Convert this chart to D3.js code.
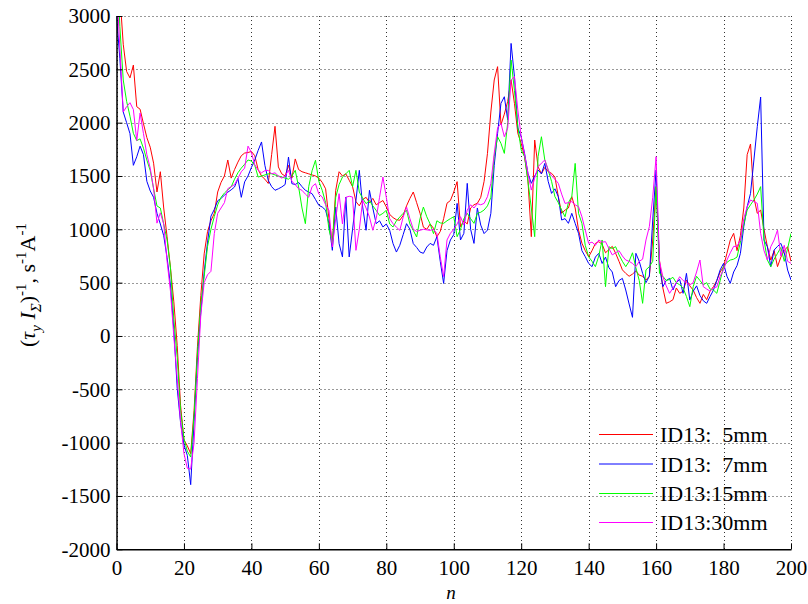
<!DOCTYPE html>
<html>
<head>
<meta charset="utf-8">
<script src="https://cdn.jsdelivr.net/npm/d3@7"></script>
<style>
  html, body { margin: 0; padding: 0; background: #fff; }
  svg { display: block; }
  text { font-family: "Liberation Serif", "Times New Roman", serif; fill: #000; }
</style>
</head>
<body>
<svg id="chart" width="808" height="604"></svg>
<script>
// ---------- data ----------
const seriesNames = ["ID13:  5mm", "ID13:  7mm", "ID13:15mm", "ID13:30mm"];
const seriesColors = ["#ff0000", "#0000ff", "#00ff00", "#ff00ff"];
const xTicks = [0, 20, 40, 60, 80, 100, 120, 140, 160, 180, 200];
const yTicks = [-2000, -1500, -1000, -500, 0, 500, 1000, 1500, 2000, 2500, 3000];

const red = [3600,3200,2735,2480,2420,2540,2150,2126,1990,1860,1770,1620,1350,1540,1200,930,640,320,-90,-650,
-974,-1030,-1103,-700,-100,380,770,980,1080,1150,1350,1440,1500,1650,1480,1560,1630,1690,1715,1720,
1730,1690,1560,1500,1470,1430,1700,1966,1585,1520,1500,1600,1480,1660,1560,1540,1530,1520,1510,1500,
1480,1440,1380,1100,865,1365,1540,1500,1520,1460,1400,1260,1220,1280,1300,1250,1290,1230,1250,1270,
1210,1140,1110,1090,1085,1130,1220,1290,1350,1250,1150,1020,1000,1050,1010,930,980,1100,1245,1270,
1350,1447,1025,1080,1050,1200,1230,1244,1300,1450,1712,2100,2400,2525,1980,2080,2200,2400,2180,1900,
1806,1681,1462,931,1837,1587,1520,1580,1540,1525,1490,1306,1150,1180,1200,1306,1200,993,870,800,
743,800,868,884,860,780,810,840,775,700,620,587,560,580,610,570,560,525,560,900,
1400,712,450,306,320,340,450,400,420,525,470,430,360,306,390,340,420,462,520,600,
650,775,900,962,800,940,1200,1700,1800,1300,1150,1180,1000,837,712,800,650,740,800,837,
700];

const blue = [3000,2600,2100,2000,1897,1600,1680,1780,1700,1450,1360,1300,1150,1050,940,735,477,60,-490,-813,
-1020,-1120,-1394,-800,-200,220,600,880,1123,1187,1268,1290,1320,1348,1370,1397,1477,1300,1445,1500,
1580,1650,1740,1819,1600,1459,1400,1366,1380,1397,1420,1678,1428,1420,1440,1400,1366,1350,1334,1280,
1225,1209,1180,1053,803,1209,866,741,1303,741,1000,1272,1553,1209,991,1366,1200,1053,1080,1022,
1050,991,866,787,850,950,1053,1000,866,830,787,775,834,868,850,931,700,493,800,900,
950,1243,900,962,1431,1000,868,1200,1040,960,993,1150,1600,1900,2181,2243,2025,2743,2431,1950,
1868,1712,1525,1431,1500,1556,1520,1618,1450,1337,1380,1306,1087,1100,1056,1150,1056,962,800,743,
680,650,740,775,680,740,640,600,462,520,540,431,300,175,775,700,587,500,560,1087,
1556,650,462,520,540,431,500,530,400,587,337,420,470,380,330,306,370,430,520,620,
681,560,494,600,660,775,1025,1212,1337,1650,1962,2240,900,837,650,806,840,868,780,618,
525];

const green = [3600,2900,2400,2200,2060,1900,1832,1848,1760,1650,1550,1381,1219,1200,1050,900,639,155,-200,-700,
-960,-1080,-1135,-750,-168,300,560,840,1000,1120,1230,1300,1340,1370,1397,1470,1530,1574,1610,1650,
1640,1600,1490,1500,1510,1520,1522,1510,1500,1490,1480,1470,1500,1553,1397,1200,1053,1400,1550,1647,
1450,1366,1250,1000,866,1300,1420,1490,1520,1553,1400,1553,1350,1290,1241,1270,1220,1178,1130,1150,
1178,1050,1022,1080,1115,1150,1178,1050,990,928,1100,1209,1118,1050,959,1080,1060,1056,1080,1100,
1118,931,1000,1100,1150,1100,1056,1150,1160,1181,1220,1300,1681,1868,1806,1712,2000,2587,2300,1962,
1743,1681,1450,1200,931,1681,1868,1650,1556,1450,1306,1250,1180,1118,1250,1306,1618,1150,1056,850,
743,700,650,750,900,462,837,820,837,760,700,650,700,780,640,520,306,620,650,700,
1400,587,560,520,530,550,500,480,450,370,275,462,560,520,480,500,440,431,400,520,
650,690,712,720,740,880,1050,1181,1230,1275,1330,1400,900,712,650,720,775,830,700,820,
962];

const magenta = [3300,2700,2100,2150,2187,2123,1832,2090,1897,1700,1574,1381,1058,1155,1050,700,420,-6,-400,-800,
-1100,-1240,-1248,-1000,-400,200,500,574,606,961,1150,1200,1250,1381,1400,1420,1477,1540,1574,1780,
1720,1606,1553,1530,1550,1553,1520,1530,1500,1480,1500,1553,1450,1420,1380,1366,1330,1300,1400,1428,
1330,1303,1230,1178,834,1100,1334,1050,1300,1310,1303,803,1000,1272,1200,1115,991,1100,1300,1490,
1300,1100,1053,1020,990,1115,1209,1100,1000,980,991,1000,995,990,1000,960,743,556,900,962,
1000,1050,1118,1040,1181,1230,1200,1240,1230,1243,1306,1431,1712,1950,1993,1868,1950,2400,2431,2118,
1868,1700,1525,1368,1480,1587,1620,1650,1556,1500,1470,1431,1330,1243,1250,1260,1230,1212,1118,993,
868,880,850,900,880,884,820,760,780,800,750,712,700,680,650,700,720,900,1025,1300,
1681,700,556,470,400,450,500,556,520,500,480,500,600,712,462,440,420,450,460,560,
620,712,780,840,840,900,1100,1212,1275,1260,1244,962,800,712,837,900,993,750,850,700,
681];

const seriesValues = [red, blue, green, magenta];

// ---------- layout ----------
const svg = d3.select("#chart");
const plotL = 116.5, plotR = 791, plotT = 16, plotB = 549.3;

const x = d3.scaleLinear().domain([0, 200]).range([plotL, plotR]);
const y = d3.scaleLinear().domain([-2000, 3000]).range([plotB, plotT]);

// gridlines
const grid = svg.append("g").attr("class", "grid");
grid.selectAll("line.h").data(yTicks).join("line")
  .attr("x1", plotL).attr("x2", plotR)
  .attr("y1", d => Math.round(y(d)) + 0.5).attr("y2", d => Math.round(y(d)) + 0.5)
  .attr("stroke", "#333").attr("stroke-width", 1).attr("stroke-dasharray", "1,3");
grid.selectAll("line.v").data(xTicks).join("line")
  .attr("y1", plotT).attr("y2", plotB)
  .attr("x1", d => Math.round(x(d)) + 0.5).attr("x2", d => Math.round(x(d)) + 0.5)
  .attr("stroke", "#333").attr("stroke-width", 1).attr("stroke-dasharray", "1,3");

// clip
svg.append("defs").append("clipPath").attr("id", "plotclip")
  .append("rect").attr("x", plotL).attr("y", plotT).attr("width", plotR - plotL).attr("height", plotB - plotT);

const line = d3.line().x((d, i) => x(i)).y(d => y(d));
const lines = svg.append("g").attr("clip-path", "url(#plotclip)");
seriesValues.forEach((vals, k) => {
  lines.append("path").datum(vals)
    .attr("d", line)
    .attr("fill", "none")
    .attr("stroke", seriesColors[k])
    .attr("stroke-width", 1)
    .attr("stroke-linejoin", "round");
});

// axes
const fmt = d => String(d);
const xAxis = d3.axisBottom(x).tickValues(xTicks).tickFormat(fmt).tickSizeInner(-6).tickSizeOuter(0).tickPadding(11);
const yAxis = d3.axisLeft(y).tickValues(yTicks).tickFormat(fmt).tickSizeInner(-6).tickSizeOuter(0).tickPadding(6);

const gx = svg.append("g").attr("transform", `translate(0,${plotB})`).call(xAxis);
const gy = svg.append("g").attr("transform", `translate(${plotL},0)`).call(yAxis);
[gx, gy].forEach(g => {
  g.attr("font-family", null);
  g.select(".domain").attr("stroke", "#000").attr("stroke-width", 1.5);
  g.selectAll(".tick line").attr("stroke", "#000");
  g.selectAll(".tick text").style("font-family", '"Liberation Serif", serif').style("font-size", "21px").attr("fill", "#000");
});

// x label
svg.append("text").attr("x", 451).attr("y", 599).attr("text-anchor", "middle")
  .style("font-size", "19px").style("font-style", "italic").text("n");

// y label
const yl = svg.append("text").attr("transform", "translate(35,285) rotate(-90)")
  .attr("text-anchor", "middle").style("font-size", "22px");
yl.append("tspan").text("(");
yl.append("tspan").style("font-style", "italic").text("τ");
yl.append("tspan").style("font-style", "italic").style("font-size", "15px").attr("dy", 6).text("y");
yl.append("tspan").style("font-style", "italic").attr("dy", -6).text(" I");
yl.append("tspan").style("font-style", "italic").style("font-size", "15px").attr("dy", 6).text("Σ");
yl.append("tspan").attr("dy", -6).text(")");
yl.append("tspan").style("font-size", "15px").attr("dy", -9).text("-1");
yl.append("tspan").attr("dy", 9).text(", s");
yl.append("tspan").style("font-size", "15px").attr("dy", -9).text("-1");
yl.append("tspan").attr("dy", 9).text("A");
yl.append("tspan").style("font-size", "15px").attr("dy", -9).text("-1");

// legend
const legendY = [434.5, 464, 493.5, 522.5];
const lg = svg.append("g");
seriesNames.forEach((name, k) => {
  lg.append("line").attr("x1", 599).attr("x2", 653)
    .attr("y1", legendY[k]).attr("y2", legendY[k])
    .attr("stroke", seriesColors[k]).attr("stroke-width", 1);
  lg.append("text").attr("x", 660).attr("y", legendY[k] + 7.5)
    .style("font-size", "22px").style("white-space", "pre").text(name);
});
</script>
</body>
</html>
